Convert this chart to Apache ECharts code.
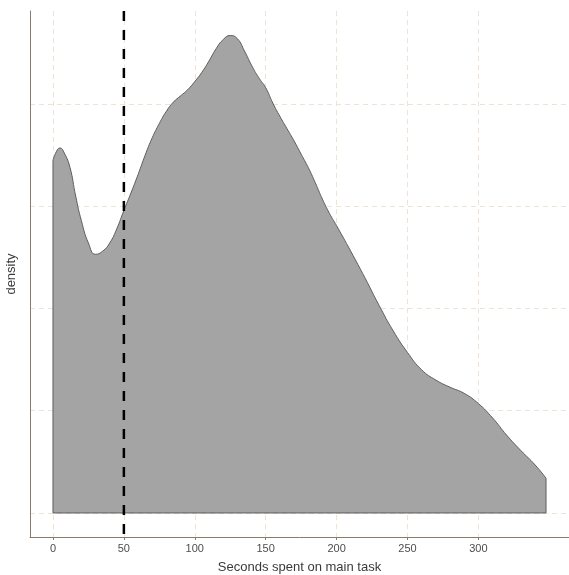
<!DOCTYPE html>
<html>
<head>
<meta charset="utf-8">
<script src="https://cdn.jsdelivr.net/npm/echarts@6/dist/echarts.min.js"></script>
<style>html,body{margin:0;padding:0;background:#fff}#c{width:569px;height:575px}</style>
</head>
<body>
<div id="c"></div>
<script>
// Seconds on main task (x) and estimated kernel density (y)
const seconds = [0,3,5,8,12,16,20,25,30,35,40,45,50,55,60,65,70,75,80,85,90,95,100,105,110,115,120,125,130,135,140,145,150,155,160,165,170,175,180,185,190,195,200,210,220,230,240,250,260,270,280,290,300,310,320,330,340,347.7];
const density = [3.45,3.55,3.57,3.52,3.38,3.10,2.86,2.64,2.53,2.56,2.64,2.78,2.96,3.13,3.31,3.50,3.67,3.81,3.93,4.02,4.08,4.14,4.22,4.31,4.42,4.54,4.63,4.67,4.64,4.52,4.38,4.26,4.16,4.01,3.88,3.76,3.64,3.51,3.38,3.23,3.07,2.93,2.81,2.56,2.30,2.03,1.78,1.57,1.40,1.30,1.23,1.17,1.07,0.93,0.76,0.61,0.47,0.34].map(v => v / 1000);
const xTicks = [0,50,100,150,200,250,300];
const yGrid = [0,0.001,0.002,0.003,0.004];
const cutoff = 50;

const xMin = -16.2, xMax = 363.9;
const yMin = -0.000235, yMax = 0.00491;

const curve = seconds.map((s, i) => [s, density[i]]);
const lastX = seconds[seconds.length - 1];
const edges = [[seconds[0], density[0]], [seconds[0], 0], [lastX, 0], [lastX, density[density.length - 1]]];

const gridColor = '#efe3d6';
const axisColor = '#8c7b6b';
const font = 'Liberation Sans, Arial, sans-serif';

const chart = echarts.init(document.getElementById('c'), null, {renderer: 'canvas'});
chart.setOption({
  animation: false,
  backgroundColor: '#ffffff',
  grid: {left: 30, right: 0, top: 11, bottom: 38, containLabel: false, outerBoundsMode: 'none'},
  xAxis: {
    type: 'value', min: xMin, max: xMax,
    name: 'Seconds spent on main task', nameLocation: 'middle', nameGap: 24,
    nameTextStyle: {fontFamily: font, fontSize: 13, color: '#3a3a3a'},
    axisLine: {show: true, onZero: false, lineStyle: {color: axisColor, width: 1}},
    axisTick: {show: true, length: 3, lineStyle: {color: axisColor}, customValues: xTicks},
    axisLabel: {customValues: xTicks, fontFamily: font, fontSize: 11, color: '#4d4d4d', margin: 6},
    splitLine: {show: true, lineStyle: {color: gridColor, type: [5, 4], width: 1}}
  },
  yAxis: {
    type: 'value', min: yMin, max: yMax,
    name: 'density', nameLocation: 'middle', nameGap: 12, nameRotate: 90,
    nameTextStyle: {fontFamily: font, fontSize: 13, color: '#3a3a3a'},
    axisLine: {show: true, onZero: false, lineStyle: {color: axisColor, width: 1}},
    axisTick: {show: false, customValues: yGrid},
    axisLabel: {show: false, customValues: yGrid},
    splitLine: {show: true, lineStyle: {color: gridColor, type: [5, 4], width: 1}}
  },
  series: [
    {
      type: 'line', data: curve, smooth: 0.5, showSymbol: false, symbol: 'none', z: 2,
      lineStyle: {color: '#5e5e5e', width: 1},
      areaStyle: {color: '#a4a4a4', opacity: 1, origin: 0}
    },
    {
      type: 'line', data: edges, smooth: false, showSymbol: false, symbol: 'none', z: 3,
      lineStyle: {color: '#5e5e5e', width: 1}
    },
    {
      type: 'line', data: [[cutoff, yMax], [cutoff, yMin]], smooth: false, showSymbol: false, symbol: 'none', z: 4,
      lineStyle: {color: '#000000', width: 2.5, type: [10, 9]}
    }
  ]
});
</script>
</body>
</html>
